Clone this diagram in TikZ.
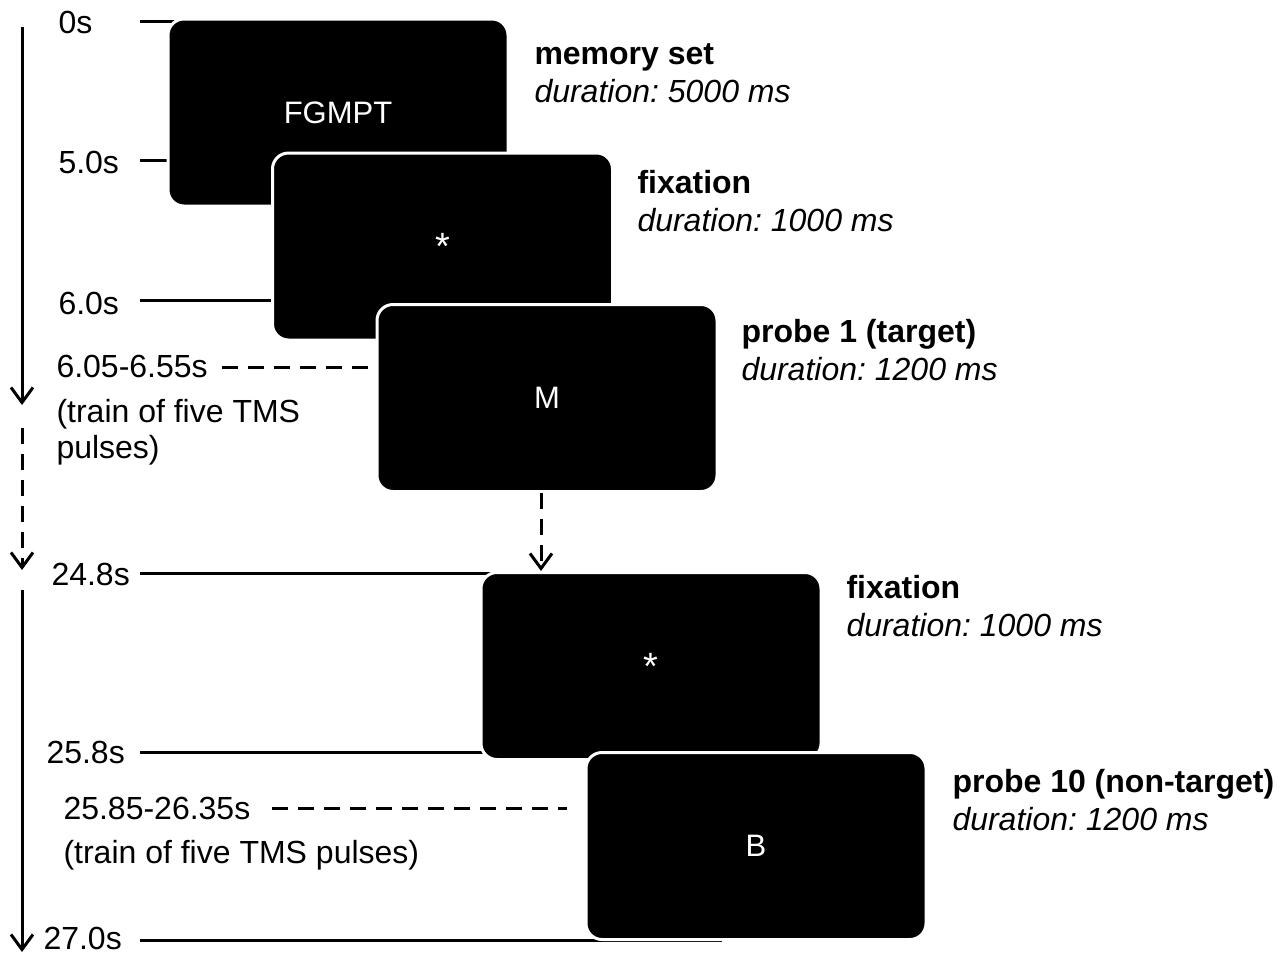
\documentclass[tikz,border=0pt]{standalone}
\usepackage{fontspec}
\setmainfont{Liberation Sans}
\usetikzlibrary{arrows.meta,backgrounds}
\frenchspacing
\tikzset{
  screen/.style={fill=black,draw=white,line width=3pt,rounded corners=16pt,
    minimum width=340pt,minimum height=187pt,text=white,font=\fontsize{31}{35}\selectfont},
  timelbl/.style={anchor=base west,inner sep=0pt,align=left,font=\fontsize{32}{36}\selectfont},
  evlbl/.style={anchor=base west,inner sep=0pt,align=left,font=\fontsize{32}{38}\selectfont},
  tick/.style={line width=3pt},
  pulse/.style={line width=3pt,dash pattern=on 16pt off 10pt},
}
\begin{document}
\begin{tikzpicture}[x=1pt,y=-1pt,>={Straight Barb[length=15pt,width=22pt]},line width=3pt]
\useasboundingbox (0,0) rectangle (1283,954);
% screens
\node[screen] (mem)  at (338,112.5) {FGMPT};
\node[screen] (fixA) at (442.5,246.5) {\fontsize{38}{38}\selectfont *};
\node[screen] (prbA) at (547,398) {M};
\node[screen] (fixB) at (651,666) {\fontsize{38}{38}\selectfont *};
\node[screen] (prbB) at (756,846) {B};
% event labels (anchored on the baseline of the last line)
\node[evlbl] (lmem)  at (533,102) {\textbf{memory set}\\\textit{duration: 5000 ms}};
\node[evlbl] (lfixA) at (636,231) {\textbf{fixation}\\\textit{duration: 1000 ms}};
\node[evlbl] (lprbA) at (740,380) {\textbf{probe 1 (target)}\\\textit{duration: 1200 ms}};
\node[evlbl] (lfixB) at (845,636) {\textbf{fixation}\\\textit{duration: 1000 ms}};
\node[evlbl] (lprbB) at (951,830) {\textbf{probe 10 (non-target)}\\\textit{duration: 1200 ms}};
% time labels
\node[timelbl] (t0)   at (57,33)  {0s};
\node[timelbl] (t5)   at (57,173) {5.0s};
\node[timelbl] (t6)   at (57,314) {6.0s};
\node[timelbl] (tp1)  at (55,377) {6.05-6.55s};
\node[timelbl] (tr1)  at (55,458) {(train of five TMS\\pulses)};
\node[timelbl] (t24)  at (50,585) {24.8s};
\node[timelbl] (t25)  at (45,763) {25.8s};
\node[timelbl] (tp2)  at (62,819) {25.85-26.35s};
\node[timelbl] (tr2)  at (62,863) {(train of five TMS pulses)};
\node[timelbl] (t27)  at (42,949) {27.0s};
% tick ends
\coordinate (k0)  at (140,21);
\coordinate (k5)  at (140,160);
\coordinate (k6)  at (140,300);
\coordinate (k24) at (140,573);
\coordinate (k25) at (140,752);
\coordinate (k27) at (140,940);
\coordinate (k27e) at (722,940);
\coordinate (p1)  at (222,367);
\coordinate (p2)  at (272,808);
% time axis
\coordinate (a1) at (22,27);   \coordinate (a1e) at (22,405);
\coordinate (a2) at (22,428);  \coordinate (a2e) at (22,570);
\coordinate (a3) at (22,590);  \coordinate (a3e) at (22,952);
\draw[->] (a1) -- (a1e);
\draw[->,pulse] (a2) -- (a2e);
\draw[->] (a3) -- (a3e);
\draw[->,pulse] ([xshift=-6pt]prbA.south) -- ([xshift=-6pt]prbA.south |- fixB.north);
\begin{scope}[on background layer]
\draw[tick] (k0) -- (k0 -| mem.center);
\draw[tick] (k5) -- (k5 -| mem.center);
\draw[tick] (k6) -- (k6 -| fixA.center);
\draw[tick] (k24) -- (k24 -| fixB.center);
\draw[tick] (k25) -- (k25 -| fixB.center);
\draw[tick] (k27) -- (k27e);
\draw[pulse] (p1) -- (p1 -| prbA.center);
\draw[pulse] (p2) -- ([xshift=-18pt]p2 -| prbB.west);
\end{scope}
\end{tikzpicture}
\end{document}
